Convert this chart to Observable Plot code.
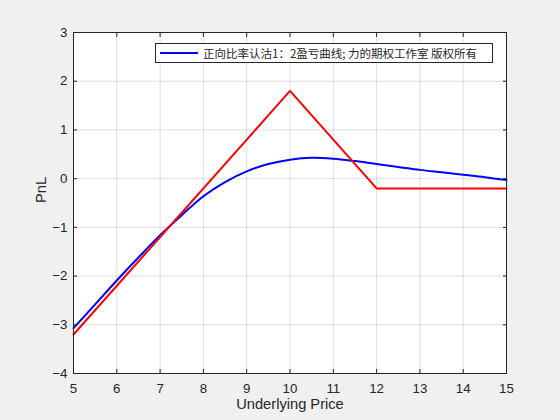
<!DOCTYPE html>
<html><head><meta charset="utf-8">
<script src="https://cdn.jsdelivr.net/npm/d3@7"></script>
<script src="https://cdn.jsdelivr.net/npm/@observablehq/plot@0.6"></script>
<style>
html,body{margin:0;padding:0;background:#f0f0f0;}
#wrap{position:relative;width:560px;height:420px;}
#legend{position:absolute;left:155px;top:43px;width:338px;height:20px;background:#fff;border:1px solid #262626;box-sizing:border-box;font-family:"Noto Sans CJK SC","Liberation Sans",sans-serif;font-size:11.5px;color:#262626;display:flex;align-items:center;white-space:nowrap;}
#legend .sw{width:38px;height:0;border-top:2px solid #0000ff;margin:0 5px 0 4px;}
</style></head>
<body><div id="wrap"><div id="legend"><span class="sw"></span><span id="lt"></span></div></div>
<script>
const legendLabel = "正向比率认沽1：2盈亏曲线; 力的期权工作室 版权所有";
const xTicks = [5,6,7,8,9,10,11,12,13,14,15];
const yTicks = [-4,-3,-2,-1,0,1,2,3];
const curveX = [5,5.5,6,6.5,7,7.5,8,8.5,9,9.5,10,10.5,11,11.5,12,12.5,13,13.5,14,14.5,15];
const curveY = [-3.07,-2.58,-2.09,-1.62,-1.16,-0.75,-0.36,-0.07,0.15,0.30,0.39,0.43,0.41,0.36,0.30,0.24,0.18,0.13,0.08,0.03,-0.03];
const expX = [5,10,12,15];
const expY = [-3.2,1.8,-0.2,-0.2];

document.getElementById("lt").textContent = legendLabel;
const blue = curveX.map((x,i)=>({x, y:curveY[i]}));
const red = expX.map((x,i)=>({x, y:expY[i]}));
const axisColor = "#262626";
const chart = Plot.plot({
  width:560, height:420,
  marginLeft:73, marginRight:54, marginTop:32, marginBottom:47,
  x:{domain:[5,15]}, y:{domain:[-4,3]},
  style:{background:"transparent", fontFamily:"'Liberation Sans', Arial, sans-serif", fontSize:"13px", color:axisColor},
  marks:[
    Plot.frame({fill:"white"}),
    Plot.gridX(xTicks,{stroke:"#000", strokeOpacity:0.13}),
    Plot.gridY(yTicks,{stroke:"#000", strokeOpacity:0.13}),
    Plot.line(blue,{x:"x", y:"y", stroke:"#0000ff", strokeWidth:2, curve:"catmull-rom"}),
    Plot.line(red,{x:"x", y:"y", stroke:"#ff0000", strokeWidth:2}),
    Plot.frame({stroke:axisColor}),
    Plot.axisX(xTicks,{anchor:"bottom", tickSize:0, tickPadding:10, label:null, fontSize:13.3}),
    Plot.axisY(yTicks,{anchor:"left", tickSize:0, tickPadding:6, label:null, fontSize:13.3}),
    Plot.axisX(xTicks,{anchor:"bottom", tickSize:-4, tickFormat:()=>"", label:null, stroke:axisColor}),
    Plot.axisX(xTicks,{anchor:"top", tickSize:-4, tickFormat:()=>"", label:null, stroke:axisColor}),
    Plot.axisY(yTicks,{anchor:"left", tickSize:-4, tickFormat:()=>"", label:null, stroke:axisColor}),
    Plot.axisY(yTicks,{anchor:"right", tickSize:-4, tickFormat:()=>"", label:null, stroke:axisColor}),
    Plot.text(["Underlying Price"],{frameAnchor:"bottom", dy:35, fontSize:14.67, fill:axisColor}),
    Plot.text(["PnL"],{frameAnchor:"left", dx:-32, rotate:-90, fontSize:14.67, fill:axisColor})
  ]
});
document.getElementById("wrap").prepend(chart);
chart.style.position="absolute"; chart.style.left="0"; chart.style.top="0";
</script></body></html>
